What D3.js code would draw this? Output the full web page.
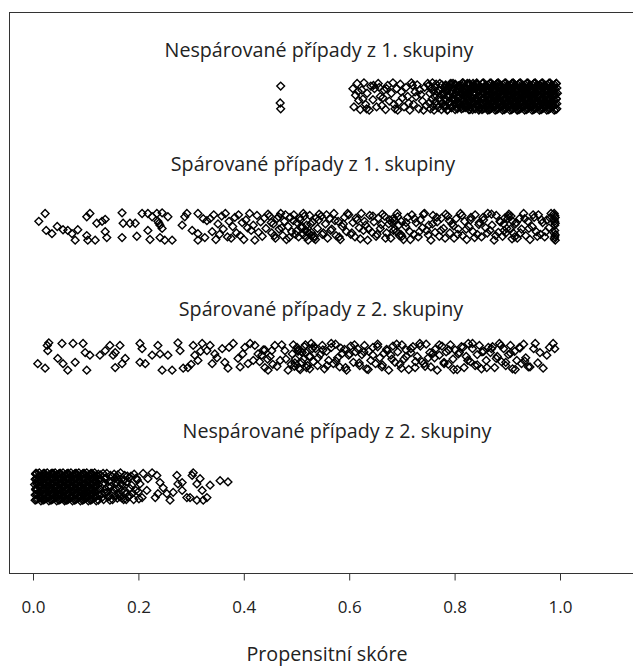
<!DOCTYPE html>
<html><head><meta charset="utf-8">
<script src="https://cdn.jsdelivr.net/npm/d3@7"></script>
<style>body{margin:0;background:#fff}svg{display:block}</style>
</head><body>
<script>
// ---- data ----
const groupLabels = ["Nespárované případy z 1. skupiny","Spárované případy z 1. skupiny","Spárované případy z 2. skupiny","Nespárované případy z 2. skupiny"];
const groupRows = [3,2,1,0];
const tickValues = [0,0.2,0.4,0.6,0.8,1.0];
const tickLabels = ["0.0","0.2","0.4","0.6","0.8","1.0"];
const xTitle = "Propensitní skóre";

// [propensity score, vertical jitter]
const unmatchedTreated = [
[0.470,0.080],[0.469,-0.050],[0.470,-0.095],
[0.607,0.06],[0.609,-0.08],[0.612,0.01],[0.615,0.10],[0.617,0.04],[0.618,-0.03],[0.621,-0.10],[0.624,0.05],[0.626,-0.02],[0.628,0.105],
[0.631,-0.06],[0.633,-0.095],[0.634,0.025],[0.638,-0.105],[0.641,0.08],[0.645,-0.025],[0.646,0.085],[0.648,0.06],[0.652,-0.08],[0.655,0.10],
[0.657,0.07],[0.659,0.0],[0.662,-0.07],[0.664,-0.01],[0.666,0.05],[0.669,-0.10],[0.671,0.06],[0.673,0.085],[0.676,-0.035],[0.680,0.025],
[0.683,0.105],[0.685,-0.06],[0.687,-0.095],[0.690,0.06],[0.692,-0.105],[0.694,-0.045],[0.697,0.095],[0.699,0.035],[0.701,-0.01],[0.704,-0.08],
[0.708,0.07],[0.711,0.0],[0.713,-0.05],[0.715,-0.105],[0.718,0.105],[0.720,0.085],[0.722,-0.06],[0.725,0.035],[0.727,0.0],[0.729,0.09],
[0.732,-0.095],[0.734,0.05],[0.736,0.015],[0.739,-0.035],[0.741,-0.105],[0.743,0.07],[0.746,-0.07],[0.749,0.10],
[0.751,0.085],[0.752,-0.05],[0.753,0.025],[0.754,-0.095],[0.755,0.06],[0.757,-0.02],[0.758,0.105],[0.759,-0.075],[0.760,0.04],[0.761,-0.105],
[0.762,0.0],[0.763,0.07],[0.764,-0.04],[0.765,0.095],[0.766,-0.065],[0.768,0.03],[0.769,-0.085],[0.770,0.05],[0.771,-0.01],[0.772,0.1],
[0.773,-0.03],[0.774,0.015],[0.775,-0.1],[0.776,0.09],[0.777,-0.055],[0.779,0.035],[0.780,-0.08],[0.781,0.065],[0.782,-0.015],[0.783,0.08],
[0.784,-0.075],[0.785,0.04],[0.786,-0.105],[0.787,0.0],[0.789,0.07],[0.790,-0.04],[0.791,0.095],[0.792,-0.065],[0.793,0.03],[0.794,-0.085],
[0.795,0.05],[0.796,-0.01],[0.797,0.1],[0.798,-0.03],[0.800,0.015],[0.801,-0.1],[0.802,0.09],[0.803,-0.055],[0.804,0.035],[0.805,-0.08],
[0.806,0.065],[0.807,-0.015],[0.808,0.08],[0.809,0.085],[0.811,-0.05],[0.812,0.025],[0.813,-0.095],[0.814,0.06],[0.815,-0.02],[0.816,0.105],
[0.817,0.095],[0.818,-0.065],[0.819,0.03],[0.820,-0.085],[0.822,0.05],[0.823,-0.01],[0.824,0.1],[0.825,-0.03],[0.826,0.015],[0.827,-0.1],
[0.828,0.09],[0.829,-0.055],[0.830,0.035],[0.831,-0.08],[0.833,0.065],[0.834,-0.015],[0.835,0.08],[0.836,0.085],[0.837,-0.05],[0.838,0.025],
[0.839,-0.095],[0.840,0.06],[0.841,-0.02],[0.842,0.105],[0.844,-0.075],[0.845,0.04],[0.846,-0.105],[0.847,0.0],[0.848,0.07],[0.849,-0.04],
[0.780,0.02],[0.781,-0.07],[0.783,0.09],[0.784,-0.03],[0.786,0.05],[0.787,-0.1],[0.788,0.0],[0.790,0.075],[0.791,-0.045],[0.793,0.1],
[0.794,-0.085],[0.795,0.035],[0.797,-0.015],[0.798,0.06],[0.800,-0.06],[0.801,0.095],[0.802,-0.025],[0.804,0.045],[0.805,-0.095],[0.807,0.08],
[0.808,-0.005],[0.809,-0.055],[0.811,0.065],[0.812,-0.08],[0.814,0.015],[0.815,0.105],[0.816,-0.035],[0.818,0.03],[0.819,-0.065],[0.821,0.055],
[0.822,0.02],[0.823,-0.07],[0.825,0.09],[0.826,-0.03],[0.828,0.05],[0.829,-0.1],[0.830,0.0],[0.832,0.075],[0.833,-0.045],[0.835,0.1],
[0.836,-0.085],[0.837,0.035],[0.839,-0.015],[0.840,0.06],[0.842,-0.06],[0.843,0.095],[0.844,-0.025],[0.846,0.045],[0.847,-0.095],[0.848,0.08],
[0.810,0.04],[0.812,-0.02],[0.814,0.08],[0.816,-0.09],[0.818,0.0],[0.820,0.06],[0.822,-0.05],[0.824,0.025],[0.826,-0.075],[0.828,0.1],
[0.830,-0.03],[0.832,0.045],[0.834,-0.1],[0.836,0.015],[0.838,0.07],[0.840,-0.04],[0.842,0.09],[0.844,-0.065],[0.846,0.005],[0.848,-0.085],
[0.852,-0.1],[0.851,-0.06],[0.853,-0.02],[0.852,0.02],[0.850,0.06],[0.853,0.1],
[0.859,-0.08],[0.858,-0.04],[0.860,0.0],[0.859,0.04],[0.857,0.08],
[0.866,-0.1],[0.865,-0.06],[0.867,-0.02],[0.866,0.02],[0.864,0.06],[0.867,0.1],
[0.873,-0.08],[0.872,-0.04],[0.874,0.0],[0.873,0.04],[0.871,0.08],
[0.880,-0.1],[0.879,-0.06],[0.881,-0.02],[0.880,0.02],[0.878,0.06],[0.881,0.1],
[0.887,-0.08],[0.886,-0.04],[0.888,0.0],[0.887,0.04],[0.885,0.08],
[0.894,-0.1],[0.893,-0.06],[0.895,-0.02],[0.894,0.02],[0.892,0.06],[0.895,0.1],
[0.901,-0.08],[0.900,-0.04],[0.902,0.0],[0.901,0.04],[0.899,0.08],
[0.908,-0.1],[0.907,-0.06],[0.909,-0.02],[0.908,0.02],[0.906,0.06],[0.909,0.1],
[0.915,-0.08],[0.914,-0.04],[0.916,0.0],[0.915,0.04],[0.913,0.08],
[0.922,-0.1],[0.921,-0.06],[0.923,-0.02],[0.922,0.02],[0.920,0.06],[0.923,0.1],
[0.929,-0.08],[0.928,-0.04],[0.930,0.0],[0.929,0.04],[0.927,0.08],
[0.936,-0.1],[0.935,-0.06],[0.937,-0.02],[0.936,0.02],[0.934,0.06],[0.937,0.1],
[0.943,-0.08],[0.942,-0.04],[0.944,0.0],[0.943,0.04],[0.941,0.08],
[0.950,-0.1],[0.949,-0.06],[0.951,-0.02],[0.950,0.02],[0.948,0.06],[0.951,0.1],
[0.957,-0.08],[0.956,-0.04],[0.958,0.0],[0.957,0.04],[0.955,0.08],
[0.964,-0.1],[0.963,-0.06],[0.965,-0.02],[0.964,0.02],[0.962,0.06],[0.965,0.1],
[0.971,-0.08],[0.970,-0.04],[0.972,0.0],[0.971,0.04],[0.969,0.08],
[0.978,-0.1],[0.977,-0.06],[0.979,-0.02],[0.978,0.02],[0.976,0.06],[0.979,0.1],
[0.985,-0.08],[0.984,-0.04],[0.986,0.0],[0.985,0.04],[0.983,0.08],
[0.992,-0.1],[0.991,-0.06],[0.993,-0.02],[0.992,0.02],[0.990,0.06],[0.993,0.1],
[0.856,-0.09],[0.856,-0.05],[0.855,-0.01],[0.857,0.03],[0.856,0.07],[0.855,0.105],
[0.863,-0.105],[0.862,-0.07],[0.864,-0.03],[0.863,0.01],[0.862,0.05],[0.864,0.09],
[0.870,-0.09],[0.870,-0.05],[0.869,-0.01],[0.871,0.03],[0.870,0.07],[0.869,0.105],
[0.877,-0.105],[0.876,-0.07],[0.878,-0.03],[0.877,0.01],[0.876,0.05],[0.878,0.09],
[0.884,-0.09],[0.884,-0.05],[0.883,-0.01],[0.885,0.03],[0.884,0.07],[0.883,0.105],
[0.891,-0.105],[0.890,-0.07],[0.892,-0.03],[0.891,0.01],[0.890,0.05],[0.892,0.09],
[0.898,-0.09],[0.898,-0.05],[0.897,-0.01],[0.899,0.03],[0.898,0.07],[0.897,0.105],
[0.905,-0.105],[0.904,-0.07],[0.906,-0.03],[0.905,0.01],[0.904,0.05],[0.906,0.09],
[0.912,-0.09],[0.912,-0.05],[0.911,-0.01],[0.913,0.03],[0.912,0.07],[0.911,0.105],
[0.919,-0.105],[0.918,-0.07],[0.920,-0.03],[0.919,0.01],[0.918,0.05],[0.920,0.09],
[0.926,-0.09],[0.926,-0.05],[0.925,-0.01],[0.927,0.03],[0.926,0.07],[0.925,0.105],
[0.933,-0.105],[0.932,-0.07],[0.934,-0.03],[0.933,0.01],[0.932,0.05],[0.934,0.09],
[0.940,-0.09],[0.940,-0.05],[0.939,-0.01],[0.941,0.03],[0.940,0.07],[0.939,0.105],
[0.947,-0.105],[0.946,-0.07],[0.948,-0.03],[0.947,0.01],[0.946,0.05],[0.948,0.09],
[0.954,-0.09],[0.954,-0.05],[0.953,-0.01],[0.955,0.03],[0.954,0.07],[0.953,0.105],
[0.961,-0.105],[0.960,-0.07],[0.962,-0.03],[0.961,0.01],[0.960,0.05],[0.962,0.09],
[0.968,-0.09],[0.968,-0.05],[0.967,-0.01],[0.969,0.03],[0.968,0.07],[0.967,0.105],
[0.975,-0.105],[0.974,-0.07],[0.976,-0.03],[0.975,0.01],[0.974,0.05],[0.976,0.09],
[0.982,-0.09],[0.982,-0.05],[0.981,-0.01],[0.983,0.03],[0.982,0.07],[0.981,0.105],
[0.989,-0.105],[0.988,-0.07],[0.990,-0.03],[0.989,0.01],[0.988,0.05],[0.990,0.09],
[0.854,-0.095],[0.854,-0.055],[0.853,-0.015],[0.855,0.025],[0.854,0.065],[0.853,0.1],
[0.861,-0.075],[0.860,-0.035],[0.862,0.005],[0.861,0.045],[0.860,0.085],
[0.868,-0.095],[0.868,-0.055],[0.867,-0.015],[0.869,0.025],[0.868,0.065],[0.867,0.1],
[0.875,-0.075],[0.874,-0.035],[0.876,0.005],[0.875,0.045],[0.874,0.085],
[0.882,-0.095],[0.882,-0.055],[0.881,-0.015],[0.883,0.025],[0.882,0.065],[0.881,0.1],
[0.889,-0.075],[0.888,-0.035],[0.890,0.005],[0.889,0.045],[0.888,0.085],
[0.896,-0.095],[0.896,-0.055],[0.895,-0.015],[0.897,0.025],[0.896,0.065],[0.895,0.1],
[0.903,-0.075],[0.902,-0.035],[0.904,0.005],[0.903,0.045],[0.902,0.085],
[0.910,-0.095],[0.910,-0.055],[0.909,-0.015],[0.911,0.025],[0.910,0.065],[0.909,0.1],
[0.917,-0.075],[0.916,-0.035],[0.918,0.005],[0.917,0.045],[0.916,0.085],
[0.924,-0.095],[0.924,-0.055],[0.923,-0.015],[0.925,0.025],[0.924,0.065],[0.923,0.1],
[0.931,-0.075],[0.930,-0.035],[0.932,0.005],[0.931,0.045],[0.930,0.085],
[0.938,-0.095],[0.938,-0.055],[0.937,-0.015],[0.939,0.025],[0.938,0.065],[0.937,0.1],
[0.945,-0.075],[0.944,-0.035],[0.946,0.005],[0.945,0.045],[0.944,0.085],
[0.952,-0.095],[0.952,-0.055],[0.951,-0.015],[0.953,0.025],[0.952,0.065],[0.951,0.1],
[0.959,-0.075],[0.958,-0.035],[0.960,0.005],[0.959,0.045],[0.958,0.085],
[0.966,-0.095],[0.966,-0.055],[0.965,-0.015],[0.967,0.025],[0.966,0.065],[0.965,0.1],
[0.973,-0.075],[0.972,-0.035],[0.974,0.005],[0.973,0.045],[0.972,0.085],
[0.980,-0.095],[0.980,-0.055],[0.979,-0.015],[0.981,0.025],[0.980,0.065],[0.979,0.1],
[0.987,-0.075],[0.986,-0.035],[0.988,0.005],[0.987,0.045],[0.986,0.085],
[0.994,-0.095],[0.994,-0.055],[0.993,-0.015],[0.995,0.025],[0.994,0.065],[0.993,0.1],
[0.855,0.03],[0.862,-0.09],[0.870,0.07],[0.876,-0.01],[0.884,0.09],[0.891,-0.07],[0.897,0.05],[0.905,-0.03],[0.912,0.1],[0.918,-0.1],
[0.925,0.01],[0.933,0.07],[0.940,-0.06],[0.947,0.03],[0.954,-0.09],[0.961,0.085],[0.968,-0.02],[0.975,0.05],[0.982,-0.07],[0.989,0.02]
];

const matchedTreated = [
[0.023,0.10],[0.011,0.04],[0.025,-0.03],[0.036,-0.055],[0.046,0.0],[0.057,-0.025],[0.066,-0.03],[0.074,-0.055],[0.085,-0.025],[0.080,-0.105],
[0.102,0.075],[0.108,0.10],[0.121,0.025],[0.137,0.055],[0.131,0.04],[0.102,-0.07],[0.104,-0.105],[0.118,-0.105],[0.137,-0.04],[0.140,-0.085],
[0.169,0.105],[0.171,0.025],[0.184,0.025],[0.194,0.025],[0.169,-0.085],[0.197,-0.075],[0.207,0.10],[0.218,0.10],[0.226,0.075],[0.235,0.10],
[0.245,0.105],[0.256,0.075],[0.237,0.04],[0.241,0.01],[0.245,-0.015],[0.239,0.025],[0.218,-0.03],[0.222,-0.1],[0.241,-0.085],[0.250,-0.105],
[0.264,-0.105],[0.283,0.01],[0.292,0.1],[0.288,0.075],[0.302,-0.03],[0.313,-0.055],[0.313,0.1],[0.323,0.06],[0.330,0.045],[0.326,-0.085],[0.313,-0.105],
[0.336,0.06],[0.340,-0.04],[0.343,0.09],[0.347,-0.10],[0.351,0.02],[0.354,-0.06],[0.358,0.08],[0.361,-0.02],[0.365,0.10],[0.369,-0.08],
[0.372,0.04],[0.376,-0.09],[0.379,0.00],[0.383,0.07],[0.386,-0.05],[0.390,0.09],[0.393,-0.07],[0.397,0.03],[0.400,-0.10],[0.404,0.05],
[0.407,-0.01],[0.411,0.10],[0.414,-0.03],[0.418,0.01],[0.421,-0.105],[0.425,0.085],[0.428,-0.045],[0.432,0.035],[0.435,-0.075],[0.439,0.065],
[0.442,-0.015],[0.446,0.095],[0.449,0.08],[0.453,-0.05],[0.456,0.02],[0.460,-0.09],[0.463,0.06],[0.467,-0.02],[0.470,0.10],[0.474,-0.07],
[0.477,0.04],[0.481,-0.10],[0.484,0.00],[0.488,0.07],[0.491,-0.04],[0.495,0.09],[0.498,-0.06],[0.501,0.03],[0.504,-0.08],[0.507,0.05],
[0.510,-0.01],[0.513,0.10],[0.516,-0.03],[0.519,0.01],[0.522,-0.105],[0.525,0.085],[0.528,-0.045],[0.531,0.035],[0.534,-0.075],[0.537,0.065],
[0.540,-0.015],[0.543,0.095],[0.512,-0.06],[0.518,-0.08],[0.523,-0.05],[0.529,-0.07],[0.533,-0.09],
[0.547,0.08],[0.551,-0.05],[0.555,0.02],[0.559,-0.09],[0.563,0.06],[0.567,-0.02],[0.571,0.10],[0.575,-0.07],[0.579,0.04],[0.583,-0.10],
[0.587,0.00],[0.591,0.07],[0.595,-0.04],[0.599,0.09],[0.603,-0.06],[0.607,0.03],[0.611,-0.08],[0.615,0.05],[0.619,-0.01],[0.623,0.10],
[0.627,-0.03],[0.631,0.01],[0.635,-0.105],[0.639,0.085],[0.643,-0.045],[0.647,0.035],[0.651,-0.075],[0.655,0.065],[0.659,-0.015],[0.663,0.095],
[0.667,0.08],[0.671,-0.05],[0.675,0.02],[0.679,-0.09],[0.683,0.06],[0.687,-0.02],[0.691,0.10],[0.695,-0.07],[0.699,0.04],[0.703,-0.10],
[0.681,0.03],[0.686,0.05],[0.690,-0.04],[0.694,0.01],[0.698,-0.06],
[0.707,0.00],[0.711,0.07],[0.715,-0.04],[0.719,0.09],[0.723,-0.06],[0.727,0.03],[0.731,-0.08],[0.735,0.05],[0.739,-0.01],[0.743,0.10],
[0.747,-0.03],[0.751,0.01],[0.755,-0.105],[0.759,0.085],[0.763,-0.045],[0.767,0.035],[0.771,-0.075],[0.775,0.065],[0.779,-0.015],[0.783,0.095],
[0.787,0.08],[0.791,-0.05],[0.795,0.02],[0.799,-0.09],[0.803,0.06],[0.807,-0.02],[0.811,0.10],[0.815,-0.07],[0.819,0.04],[0.823,-0.10],
[0.827,0.00],[0.831,0.07],[0.835,-0.04],[0.839,0.09],[0.843,-0.06],[0.847,0.03],[0.851,-0.08],[0.855,0.05],[0.859,-0.01],[0.863,0.10],
[0.867,-0.03],[0.871,0.01],[0.875,-0.105],[0.879,0.085],[0.883,-0.045],[0.887,0.035],[0.891,-0.075],[0.895,0.065],[0.899,-0.015],[0.903,0.095],
[0.893,0.02],[0.897,-0.05],[0.901,0.06],[0.906,-0.02],[0.910,0.04],[0.914,-0.08],
[0.907,0.08],[0.911,-0.05],[0.915,0.02],[0.919,-0.09],[0.923,0.06],[0.927,-0.02],[0.931,0.10],[0.935,-0.07],[0.939,0.04],[0.943,-0.10],
[0.947,0.00],[0.951,0.07],[0.955,-0.04],[0.959,0.09],[0.963,-0.06],[0.967,0.03],[0.971,-0.08],[0.975,0.05],[0.979,-0.01],[0.983,0.10],
[0.989,0.10],[0.990,0.085],[0.991,0.07],[0.989,0.055],[0.990,0.04],[0.991,0.025],[0.990,-0.03],[0.989,-0.05],[0.991,-0.065],[0.990,-0.08],
[0.989,-0.095],[0.991,-0.105],[0.990,0.01],
[0.452,0.03],[0.458,-0.07],[0.466,0.075],[0.472,-0.01],[0.479,0.09],[0.486,-0.085],[0.494,0.045],[0.500,-0.035],[0.506,0.065],[0.511,0.0],
[0.515,0.08],[0.520,-0.04],[0.527,0.02],[0.536,-0.1],[0.542,0.05],[0.549,-0.06],[0.557,0.09],[0.565,-0.03],[0.573,0.045],[0.581,-0.08],
[0.589,0.02],[0.597,0.1],[0.605,-0.05],[0.613,0.065],[0.621,-0.095],[0.629,0.04],[0.637,-0.02],[0.645,0.08],[0.653,-0.06],[0.661,0.015],
[0.669,-0.09],[0.677,0.05],[0.684,-0.03],[0.692,0.075],[0.700,-0.075],[0.708,0.03],[0.716,-0.1],[0.724,0.06],[0.733,-0.04],[0.741,0.095],
[0.750,-0.065],[0.758,0.02],[0.766,0.07],[0.774,-0.03],[0.782,-0.09],[0.790,0.045],[0.798,0.005],[0.806,-0.06],[0.814,0.085],[0.822,-0.02],
[0.830,0.05],[0.838,-0.085],[0.846,0.015],[0.854,0.07],[0.862,-0.05],[0.870,0.095],[0.878,-0.07],[0.886,0.04],[0.894,-0.03],[0.902,0.08],
[0.909,-0.095],[0.917,0.03],[0.925,-0.05],[0.933,0.06],[0.941,-0.015],[0.949,0.09],[0.957,-0.075],[0.965,0.05],[0.973,-0.04],[0.981,0.065]
];

const matchedControl = [
[0.009,-0.055],[0.023,-0.09],[0.027,0.085],[0.030,0.105],[0.028,0.045],[0.055,0.10],[0.047,-0.015],[0.057,-0.055],[0.076,0.10],[0.080,-0.045],
[0.066,-0.105],[0.095,0.10],[0.099,0.03],[0.108,0.01],[0.102,-0.105],[0.127,0.01],[0.137,0.045],[0.146,0.085],[0.152,0.01],[0.156,0.03],
[0.165,0.085],[0.175,-0.015],[0.169,-0.055],[0.156,-0.085],[0.203,0.10],[0.207,0.06],[0.203,-0.045],[0.213,-0.055],[0.226,0.01],[0.237,0.085],
[0.241,0.02],[0.245,-0.105],[0.256,0.01],[0.264,-0.105],[0.275,0.105],[0.279,0.045],[0.285,-0.09],[0.294,-0.085],[0.304,0.085],[0.307,0.01],
[0.313,-0.03],[0.321,0.10],[0.330,0.045],[0.336,0.085],[0.340,-0.055],[0.349,-0.01],[0.359,0.06],[0.364,-0.045],[0.370,-0.09],[0.380,0.10],
[0.389,-0.015],[0.398,0.02],[0.402,0.07],[0.408,-0.055],[0.421,0.085],[0.427,0.02],[0.434,0.01],[0.440,-0.085],[0.446,-0.105],[0.453,0.045],
[0.459,0.085],[0.469,-0.03],[0.478,0.045],[0.484,-0.105],[0.430,-0.04],[0.440,0.05],[0.445,-0.02],[0.450,0.0],[0.455,-0.06],
[0.490,-0.06],[0.494,0.09],[0.498,-0.02],[0.503,0.05],[0.507,-0.10],[0.511,0.03],[0.515,0.075],[0.519,-0.085],[0.524,0.0],[0.528,0.10],
[0.532,-0.04],[0.536,0.06],[0.540,-0.07],[0.545,0.015],[0.549,0.085],[0.553,-0.095],[0.557,0.04],[0.561,-0.03],[0.566,0.07],[0.570,-0.055],
[0.574,0.095],[0.578,-0.01],[0.582,-0.08],[0.587,0.025],[0.591,0.055],[0.595,-0.105],[0.599,0.01],[0.603,0.08],[0.608,-0.045],[0.612,0.035],
[0.492,0.02],[0.497,-0.05],[0.501,0.07],[0.505,-0.09],[0.509,0.04],[0.513,-0.02],[0.517,0.09],[0.521,-0.07],[0.526,0.0],[0.530,0.06],
[0.616,0.06],[0.620,-0.07],[0.624,0.015],[0.629,0.085],[0.633,-0.095],[0.637,0.04],[0.641,-0.03],[0.645,0.07],[0.650,-0.055],[0.654,0.095],
[0.658,-0.01],[0.662,-0.08],[0.666,0.025],[0.671,0.055],[0.675,-0.105],[0.679,0.01],[0.683,0.08],[0.687,-0.045],[0.692,0.035],[0.696,-0.06],
[0.700,0.09],[0.704,-0.02],[0.708,0.05],[0.713,-0.10],[0.717,0.03],[0.721,0.075],[0.725,-0.085],[0.729,0.0],[0.734,0.10],[0.738,-0.04],
[0.742,-0.055],[0.746,0.095],[0.750,-0.01],[0.755,-0.08],[0.759,0.025],[0.763,0.055],[0.767,-0.105],[0.771,0.01],[0.776,0.08],[0.780,-0.045],
[0.784,0.035],[0.788,-0.06],[0.792,0.09],[0.797,-0.02],[0.801,0.05],[0.805,-0.10],[0.809,0.03],[0.813,0.075],[0.818,-0.085],[0.822,0.0],
[0.826,0.10],[0.830,-0.04],[0.834,0.06],[0.839,-0.07],[0.843,0.015],[0.847,0.085],[0.851,-0.095],[0.855,0.04],[0.860,-0.03],[0.864,0.07],
[0.868,0.03],[0.872,0.075],[0.876,-0.085],[0.881,0.0],[0.885,0.10],[0.889,-0.04],[0.893,0.06],[0.897,-0.07],[0.902,0.015],[0.906,0.085],
[0.910,-0.095],[0.914,0.04],[0.918,-0.03],[0.923,0.07],[0.927,-0.055],[0.931,0.095],[0.935,-0.01],[0.940,-0.08],
[0.943,-0.08],[0.950,0.06],[0.953,0.10],[0.958,-0.05],[0.962,0.03],[0.968,-0.09],[0.975,0.01],[0.980,0.07],[0.987,0.10],[0.990,0.06],
[0.300,-0.06],[0.318,0.04],[0.345,0.02],[0.372,0.07],[0.393,-0.08],[0.412,0.1],[0.418,-0.03],[0.437,0.05],[0.463,-0.075],[0.472,0.09],[0.480,-0.02],
[0.496,-0.075],[0.503,0.04],[0.510,-0.045],[0.518,0.03],[0.525,-0.095],[0.533,0.08],[0.541,-0.01],[0.550,0.05],[0.558,-0.07],[0.566,0.1],
[0.575,-0.035],[0.584,0.065],[0.593,-0.085],[0.601,0.02],[0.610,0.09],[0.619,-0.05],[0.628,0.035],[0.636,-0.1],[0.645,0.01],[0.654,0.075],
[0.663,-0.065],[0.672,0.045],[0.681,-0.02],[0.690,0.095],[0.699,-0.09],[0.708,0.0],[0.717,0.06],[0.726,-0.04],[0.735,0.08],[0.744,-0.075],
[0.753,0.03],[0.762,-0.01],[0.771,0.09],[0.780,-0.055],[0.789,0.05],[0.798,-0.1],[0.807,0.02],[0.816,0.07],[0.825,-0.03],[0.834,0.1],
[0.843,-0.065],[0.852,0.035],[0.861,-0.085],[0.870,0.06],[0.879,-0.015],[0.888,0.085],[0.897,-0.045],[0.906,0.025],[0.915,-0.1],[0.924,0.065],[0.933,-0.035]
];

const unmatchedControl = [
[0.004,-0.105],[0.004,-0.065],[0.005,-0.025],[0.003,0.015],[0.004,0.055],[0.005,0.095],
[0.012,-0.085],[0.011,-0.045],[0.012,-0.005],[0.013,0.035],[0.011,0.075],[0.012,0.105],
[0.019,-0.105],[0.020,-0.065],[0.018,-0.025],[0.019,0.015],[0.020,0.055],[0.019,0.095],
[0.027,-0.085],[0.026,-0.045],[0.027,-0.005],[0.028,0.035],[0.026,0.075],[0.027,0.105],
[0.034,-0.105],[0.035,-0.065],[0.033,-0.025],[0.034,0.015],[0.035,0.055],[0.034,0.095],
[0.042,-0.085],[0.041,-0.045],[0.042,-0.005],[0.043,0.035],[0.041,0.075],[0.042,0.105],
[0.049,-0.105],[0.050,-0.065],[0.048,-0.025],[0.049,0.015],[0.050,0.055],[0.049,0.095],
[0.057,-0.085],[0.056,-0.045],[0.057,-0.005],[0.058,0.035],[0.056,0.075],[0.057,0.105],
[0.064,-0.105],[0.065,-0.065],[0.063,-0.025],[0.064,0.015],[0.065,0.055],[0.064,0.095],
[0.072,-0.085],[0.071,-0.045],[0.072,-0.005],[0.073,0.035],[0.071,0.075],[0.072,0.105],
[0.079,-0.105],[0.080,-0.065],[0.078,-0.025],[0.079,0.015],[0.080,0.055],[0.079,0.095],
[0.087,-0.085],[0.086,-0.045],[0.087,-0.005],[0.088,0.035],[0.086,0.075],[0.087,0.105],
[0.094,-0.105],[0.095,-0.065],[0.093,-0.025],[0.094,0.015],[0.095,0.055],[0.094,0.095],
[0.102,-0.085],[0.101,-0.045],[0.102,-0.005],[0.103,0.035],[0.101,0.075],[0.102,0.105],
[0.109,-0.105],[0.110,-0.065],[0.108,-0.025],[0.109,0.015],[0.110,0.055],[0.109,0.095],
[0.117,-0.085],[0.116,-0.045],[0.117,-0.005],[0.118,0.035],[0.116,0.075],[0.117,0.105],
[0.124,-0.105],[0.125,-0.065],[0.123,-0.025],[0.124,0.015],[0.125,0.055],[0.124,0.095],
[0.008,-0.095],[0.008,-0.055],[0.007,-0.015],[0.009,0.025],[0.008,0.065],[0.007,0.1],
[0.015,-0.075],[0.016,-0.035],[0.015,0.005],[0.014,0.045],[0.016,0.085],[0.015,-0.11],
[0.023,-0.095],[0.023,-0.055],[0.022,-0.015],[0.024,0.025],[0.023,0.065],[0.022,0.1],
[0.030,-0.075],[0.031,-0.035],[0.030,0.005],[0.029,0.045],[0.031,0.085],[0.030,-0.11],
[0.038,-0.095],[0.038,-0.055],[0.037,-0.015],[0.039,0.025],[0.038,0.065],[0.037,0.1],
[0.045,-0.075],[0.046,-0.035],[0.045,0.005],[0.044,0.045],[0.046,0.085],[0.045,-0.11],
[0.053,-0.095],[0.053,-0.055],[0.052,-0.015],[0.054,0.025],[0.053,0.065],[0.052,0.1],
[0.060,-0.075],[0.061,-0.035],[0.060,0.005],[0.059,0.045],[0.061,0.085],[0.060,-0.11],
[0.068,-0.095],[0.068,-0.055],[0.067,-0.015],[0.069,0.025],[0.068,0.065],[0.067,0.1],
[0.075,-0.075],[0.076,-0.035],[0.075,0.005],[0.074,0.045],[0.076,0.085],[0.075,-0.11],
[0.083,-0.095],[0.083,-0.055],[0.082,-0.015],[0.084,0.025],[0.083,0.065],[0.082,0.1],
[0.090,-0.075],[0.091,-0.035],[0.090,0.005],[0.089,0.045],[0.091,0.085],[0.090,-0.11],
[0.098,-0.095],[0.098,-0.055],[0.097,-0.015],[0.099,0.025],[0.098,0.065],[0.097,0.1],
[0.105,-0.075],[0.106,-0.035],[0.105,0.005],[0.104,0.045],[0.106,0.085],[0.105,-0.11],
[0.113,-0.095],[0.113,-0.055],[0.112,-0.015],[0.114,0.025],[0.113,0.065],[0.112,0.1],
[0.120,-0.075],[0.121,-0.035],[0.120,0.005],[0.119,0.045],[0.121,0.085],[0.120,-0.11],
[0.006,-0.1],[0.006,-0.06],[0.005,-0.02],[0.007,0.02],[0.006,0.06],[0.005,0.1],
[0.014,-0.08],[0.013,-0.04],[0.014,0.0],[0.015,0.04],[0.013,0.08],
[0.021,-0.1],[0.021,-0.06],[0.020,-0.02],[0.022,0.02],[0.021,0.06],[0.020,0.1],
[0.029,-0.08],[0.028,-0.04],[0.029,0.0],[0.030,0.04],[0.028,0.08],
[0.036,-0.1],[0.036,-0.06],[0.035,-0.02],[0.037,0.02],[0.036,0.06],[0.035,0.1],
[0.044,-0.08],[0.043,-0.04],[0.044,0.0],[0.045,0.04],[0.043,0.08],
[0.051,-0.1],[0.051,-0.06],[0.050,-0.02],[0.052,0.02],[0.051,0.06],[0.050,0.1],
[0.059,-0.08],[0.058,-0.04],[0.059,0.0],[0.060,0.04],[0.058,0.08],
[0.066,-0.1],[0.066,-0.06],[0.065,-0.02],[0.067,0.02],[0.066,0.06],[0.065,0.1],
[0.074,-0.08],[0.073,-0.04],[0.074,0.0],[0.075,0.04],[0.073,0.08],
[0.081,-0.1],[0.081,-0.06],[0.080,-0.02],[0.082,0.02],[0.081,0.06],[0.080,0.1],
[0.089,-0.08],[0.088,-0.04],[0.089,0.0],[0.090,0.04],[0.088,0.08],
[0.096,-0.1],[0.096,-0.06],[0.095,-0.02],[0.097,0.02],[0.096,0.06],[0.095,0.1],
[0.104,-0.08],[0.103,-0.04],[0.104,0.0],[0.105,0.04],[0.103,0.08],
[0.111,-0.1],[0.111,-0.06],[0.110,-0.02],[0.112,0.02],[0.111,0.06],[0.110,0.1],
[0.119,-0.08],[0.118,-0.04],[0.119,0.0],[0.120,0.04],[0.118,0.08],
[0.008,0.04],[0.016,-0.09],[0.023,0.08],[0.031,-0.02],[0.038,0.1],[0.046,-0.06],[0.053,0.02],[0.061,-0.1],[0.068,0.06],[0.076,-0.04],
[0.083,0.09],[0.091,0.0],[0.098,-0.08],[0.106,0.05],[0.113,-0.03],[0.120,0.07],
[0.128,0.09],[0.130,-0.06],[0.132,0.02],[0.134,-0.1],[0.136,0.06],[0.138,-0.02],[0.140,0.1],[0.142,-0.08],[0.144,0.04],[0.146,-0.105],
[0.148,0.0],[0.150,0.075],[0.152,-0.045],[0.154,0.095],[0.156,-0.07],[0.158,0.03],[0.160,-0.09],[0.162,0.05],[0.164,-0.01],[0.166,0.105],
[0.168,-0.035],[0.170,0.015],[0.172,-0.1],[0.174,0.085],[0.176,-0.055],[0.178,0.035],[0.180,-0.08],[0.182,0.065],[0.184,-0.015],[0.186,0.08],
[0.189,-0.05],[0.192,0.095],[0.195,-0.03],[0.198,0.05],[0.201,-0.095],[0.135,0.03],[0.141,-0.045],[0.147,0.085],[0.153,-0.025],[0.159,0.07],
[0.165,-0.08],[0.171,0.045],[0.177,-0.1],
[0.127,-0.02],[0.129,0.05],[0.131,-0.085],[0.133,0.1],[0.137,-0.05],[0.139,0.07],[0.143,0.0],[0.145,-0.075],[0.149,0.035],[0.151,-0.1],
[0.155,0.06],[0.157,-0.02],[0.161,0.09],[0.163,-0.06],[0.167,0.02],[0.169,-0.09],[0.173,0.05],[0.175,-0.035],[0.179,0.08],[0.183,-0.07],
[0.187,0.01],[0.191,-0.1],[0.196,0.065],[0.200,-0.04],
[0.203,0.02],[0.207,-0.085],[0.209,0.10],[0.216,-0.03],[0.218,0.06],[0.226,0.105],[0.232,-0.085],[0.235,0.085],[0.237,-0.055],[0.241,0.03],
[0.247,-0.01],[0.254,-0.055],[0.260,-0.105],[0.266,-0.045],[0.273,0.085],[0.275,0.02],[0.283,0.03],[0.283,-0.03],[0.292,-0.085],[0.298,-0.085],
[0.302,0.085],[0.304,0.105],[0.311,0.02],[0.311,-0.105],[0.317,0.06],[0.321,-0.03],[0.323,-0.105],[0.330,-0.085],[0.336,0.01],[0.355,0.045],[0.370,0.035]
];

const groups = [unmatchedTreated, matchedTreated, matchedControl, unmatchedControl];

// ---- layout ----
const W = 633, H = 666;
const frame = {left: 9.5, top: 12.5, bottom: 573.5, right: 640};
const titlePos = [[319,56.5],[313,171],[321,316],[337,438]];

const svg = d3.select("body").append("svg").attr("width", W).attr("height", H);
const x = d3.scaleLinear().domain([0,1]).range([33,560]);
const y = d3.scaleLinear().domain([0,3]).range([486.5,96.5]);

svg.append("rect")
  .attr("x", frame.left).attr("y", frame.top)
  .attr("width", frame.right - frame.left).attr("height", frame.bottom - frame.top)
  .attr("fill","none").attr("stroke","#333").attr("stroke-width",1);

const axis = d3.axisBottom(x).tickValues(tickValues)
  .tickFormat((d,i) => tickLabels[i]).tickSize(7).tickPadding(20);
const gAxis = svg.append("g").attr("transform", `translate(0,${frame.bottom})`).call(axis);
gAxis.select(".domain").remove();
gAxis.selectAll(".tick line").attr("stroke","#333");
gAxis.selectAll(".tick text").attr("fill","#222")
  .style("font-family","'Open Sans', sans-serif").style("font-size","17px");

const diamond = "M0,-3.9L3.9,0L0,3.9L-3.9,0Z";
groups.forEach((pts, gi) => {
  svg.append("g")
    .selectAll("path").data(pts).enter().append("path")
    .attr("d", diamond)
    .attr("transform", d => `translate(${x(d[0])},${y(groupRows[gi] + d[1])})`)
    .attr("fill","none").attr("stroke","#000").attr("stroke-width",1.4);
});

svg.selectAll(".gtitle").data(groupLabels).enter().append("text")
  .attr("class","gtitle")
  .attr("x", (d,i) => titlePos[i][0]).attr("y", (d,i) => titlePos[i][1])
  .attr("text-anchor","middle").attr("fill","#222")
  .style("font-family","'Open Sans', sans-serif").style("font-size","19.7px")
  .text(d => d);

svg.append("text").attr("x", 327).attr("y", 661)
  .attr("text-anchor","middle").attr("fill","#222")
  .style("font-family","'Open Sans', sans-serif").style("font-size","19.7px")
  .text(xTitle);
</script>
</body></html>
